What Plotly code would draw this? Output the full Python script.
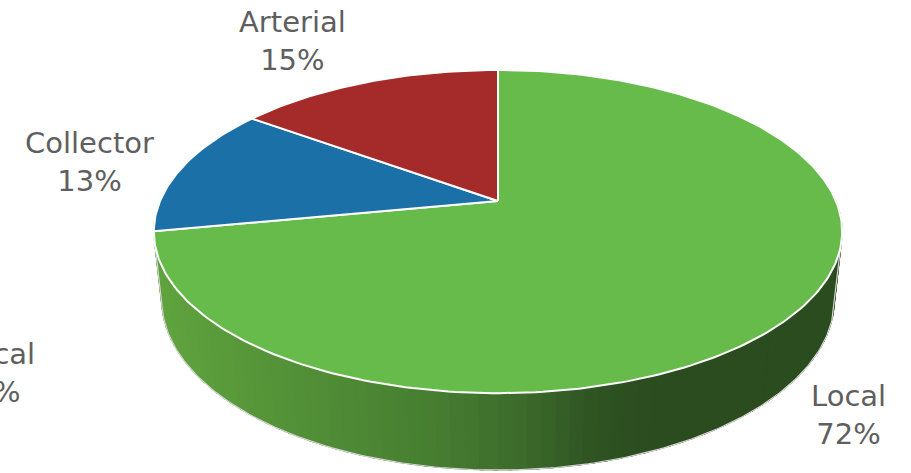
import numpy as np
import plotly.graph_objects as go

# ---- data ----
categories = ["Local", "Collector", "Arterial"]
shares = [72, 13, 15]
slice_colors = ["#67BB4A", "#1B70A8", "#A52A2A"]
label_text = ["Local<br>72%", "Collector<br>13%", "Arterial<br>15%"]
extra_label = "Local<br>0%"

# ---- 3D perspective pie geometry (pixel space) ----
W, H = 911, 473
CX, CY = 498.0, 201.0
F = 1585.0
DIST = 4.69
PHI = np.arcsin(0.461)
S, C = np.sin(PHI), np.cos(PHI)
THICK = 0.228


def proj(theta_deg, r=1.0, y=0.0):
    t = np.radians(theta_deg)
    X = r * np.sin(t)
    Z = -r * np.cos(t)
    up = y * C - Z * S
    depth = DIST - (Z * C + y * S)
    return CX + F * X / depth, CY - F * up / depth


def side_color(x):
    xs = [160, 300, 440, 520, 600, 650]
    cols = np.array([[95, 163, 62], [82, 144, 55], [70, 125, 49],
                     [60, 106, 43], [46, 82, 34], [43, 76, 31]], float)
    c = [np.interp(x, xs, cols[:, k]) for k in range(3)]
    return "rgb(%d,%d,%d)" % tuple(int(round(v)) for v in c)


fig = go.Figure()

# side wall (front half), drawn back-to-front
step = 2.0
thetas = np.arange(88, 272, step)
order = sorted(thetas, key=lambda t: -np.cos(np.radians(t)))
for t0 in order:
    t1 = t0 + step + 0.6
    arc = np.linspace(t0, t1, 4)
    xt, yt = proj(arc)
    xb, yb = proj(arc[::-1], y=-THICK)
    xs_ = np.concatenate([xt, xb, xt[:1]])
    ys_ = np.concatenate([yt, yb, yt[:1]])
    col = side_color(float(np.mean(xt)))
    fig.add_trace(go.Scatter(x=xs_, y=ys_, mode="lines", fill="toself",
                             fillcolor=col, line=dict(color=col, width=1),
                             hoverinfo="skip", showlegend=False))

# outer silhouette outline of the side (light grey)
arc = np.linspace(102, 258, 200)
xb, yb = proj(arc, y=-THICK)
xtl, ytl = proj(np.array([258.0]))
xtr, ytr = proj(np.array([102.0]))
fig.add_trace(go.Scatter(x=np.concatenate([xtr, xb, xtl]), y=np.concatenate([ytr, yb, ytl]),
                         mode="lines", line=dict(color="#D6D6D6", width=1.2),
                         hoverinfo="skip", showlegend=False))

# top face slices (clockwise from 12 o'clock)
cum = np.concatenate([[0], np.cumsum(shares)]) / sum(shares) * 360.0
for i, name in enumerate(categories):
    a = np.linspace(cum[i], cum[i + 1], max(int((cum[i + 1] - cum[i]) / 1.0), 3))
    xa, ya = proj(a)
    xs_ = np.concatenate([[CX], xa, [CX]])
    ys_ = np.concatenate([[CY], ya, [CY]])
    fig.add_trace(go.Scatter(x=xs_, y=ys_, mode="lines", fill="toself",
                             fillcolor=slice_colors[i], line=dict(color="white", width=2),
                             name=name, hoverinfo="skip", showlegend=False))

# labels
font = dict(family="DejaVu Sans", size=29, color="#5F5F5F")
label_pos = {"Local": (848, 415), "Collector": (89, 162), "Arterial": (292, 41)}
for i, name in enumerate(categories):
    x, y = label_pos[name]
    fig.add_annotation(x=x, y=y, text=label_text[i], showarrow=False, font=font,
                       xanchor="center", yanchor="middle", align="center")
# label of a further category that sits mostly off the left edge
fig.add_annotation(xref="paper", yref="paper", x=-3 / W, y=1 - 373 / H,
                   text=extra_label, showarrow=False, font=font,
                   xanchor="center", yanchor="middle", align="center")

fig.update_layout(
    width=W, height=H,
    margin=dict(l=0, r=0, t=0, b=0),
    paper_bgcolor="white", plot_bgcolor="white",
    xaxis=dict(range=[0, W], visible=False, fixedrange=True),
    yaxis=dict(range=[H, 0], visible=False, fixedrange=True),
    showlegend=False,
)
fig.write_html("out.html")
